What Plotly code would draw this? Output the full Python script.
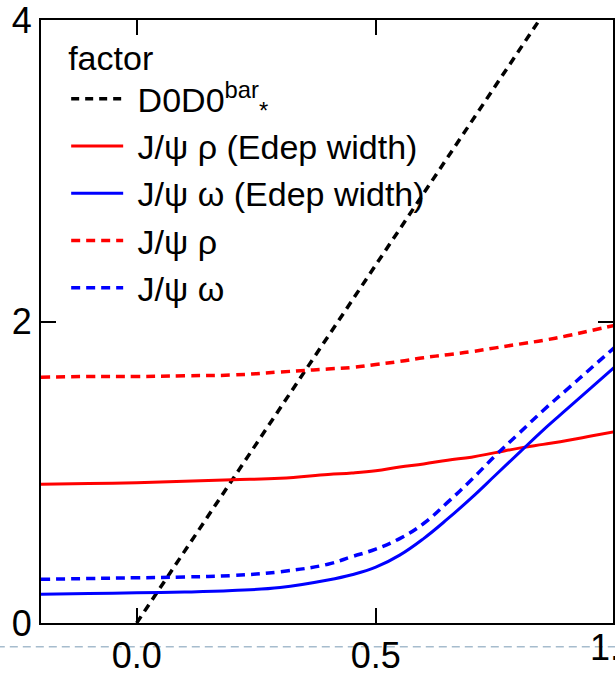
import plotly.graph_objects as go

# ---- data ----
x_grid = [-0.2, -0.1, 0.0, 0.1, 0.2, 0.3, 0.4, 0.45, 0.5, 0.55, 0.6,
          0.65, 0.7, 0.75, 0.8, 0.85, 0.9, 0.95, 1.0]

rho_edep = [0.92, 0.925, 0.93, 0.94, 0.95, 0.96, 0.985, 0.995, 1.01, 1.035, 1.055,
            1.08, 1.10, 1.13, 1.16, 1.185, 1.21, 1.24, 1.27]
omega_edep = [0.19, 0.195, 0.20, 0.205, 0.215, 0.235, 0.285, 0.32, 0.37, 0.45, 0.56,
              0.69, 0.83, 0.98, 1.13, 1.28, 1.42, 1.56, 1.70]
rho = [1.63, 1.635, 1.635, 1.64, 1.645, 1.665, 1.685, 1.695, 1.715, 1.735, 1.76,
       1.78, 1.80, 1.825, 1.85, 1.875, 1.905, 1.94, 1.975]
omega = [0.29, 0.295, 0.30, 0.305, 0.315, 0.34, 0.39, 0.44, 0.49, 0.56, 0.66,
         0.80, 0.95, 1.11, 1.26, 1.41, 1.55, 1.69, 1.83]

d0_x = [0.0, 1.0]
d0_y = [0.0, 4.75]

x_range = [-0.2, 0.996]
y_range = [0, 4]
x_ticks = [0.0, 0.5]
x_tick_text = ["0.0", "0.5"]
x_extra_tick = 1.0
x_extra_text = "1.0"
y_ticks = [0, 2, 4]
y_tick_text = ["0", "2", "4"]

names = ["D0D0<sup>bar</sup><sub>*</sub>",
         "J/ψ ρ (Edep width)",
         "J/ψ ω (Edep width)",
         "J/ψ ρ",
         "J/ψ ω"]

FONT = "Liberation Sans, Arial, Helvetica, sans-serif"
PAD = "\u00a0"  # small gap between legend sample and its text

fig = go.Figure()
fig.add_trace(go.Scatter(x=d0_x, y=d0_y, mode="lines", name=PAD + names[0],
                         line=dict(color="black", width=3.5, dash="8px,6px")))
fig.add_trace(go.Scatter(x=x_grid, y=rho_edep, mode="lines", name=PAD + names[1],
                         line=dict(color="#ff0000", width=3, shape="spline", smoothing=1.2)))
fig.add_trace(go.Scatter(x=x_grid, y=omega_edep, mode="lines", name=PAD + names[2],
                         line=dict(color="#0000ff", width=3, shape="spline", smoothing=1.2)))
fig.add_trace(go.Scatter(x=x_grid, y=rho, mode="lines", name=PAD + names[3],
                         line=dict(color="#ff0000", width=3.5, dash="9px,6px",
                                   shape="spline", smoothing=1.2)))
fig.add_trace(go.Scatter(x=x_grid, y=omega, mode="lines", name=PAD + names[4],
                         line=dict(color="#0000ff", width=3.5, dash="9px,6px",
                                   shape="spline", smoothing=1.2)))

axis_common = dict(showline=True, linecolor="black", linewidth=2, mirror="ticks",
                   ticks="inside", ticklen=15, tickwidth=1.5, tickcolor="black",
                   showgrid=False, zeroline=False, automargin=False,
                   ticklabeloverflow="allow",
                   tickfont=dict(family=FONT, size=36, color="black"))

fig.update_layout(
    width=615, height=674,
    margin=dict(l=41, r=2, t=20, b=51, autoexpand=False),
    paper_bgcolor="white", plot_bgcolor="white",
    font=dict(family=FONT, color="black"),
    xaxis=dict(range=x_range, tickvals=x_ticks, ticktext=x_tick_text, **axis_common),
    yaxis=dict(range=y_range, tickvals=y_ticks, ticktext=y_tick_text, **axis_common),
    showlegend=True,
    legend=dict(title=dict(text="factor", font=dict(size=34, family=FONT)),
                font=dict(size=34, family=FONT, color="black"),
                x=0.044, y=0.990, xanchor="left", yanchor="top",
                bgcolor="rgba(0,0,0,0)", itemwidth=52, tracegroupgap=0),
)

# tick label for 1.0 sitting at the right edge (outside the visible range)
x_paper = (x_extra_tick - x_range[0]) / (x_range[1] - x_range[0])
fig.add_annotation(x=x_paper, xref="paper", xanchor="center",
                   y=0, yref="paper", yanchor="top",
                   text=x_extra_text, showarrow=False, yshift=-2,
                   font=dict(family=FONT, size=36, color="black"))

# dashed guide line below the axis
fig.add_shape(type="line", xref="paper", yref="paper", x0=-0.1, x1=1.1,
              y0=-0.0395, y1=-0.0395, layer="below",
              line=dict(color="#a6bccd", width=1.5, dash="8px,5px"))

fig.write_html("out.html",
               config={"displayModeBar": False},
               post_script="document.body.style.margin='0';"
                           "document.body.style.overflow='hidden';")
